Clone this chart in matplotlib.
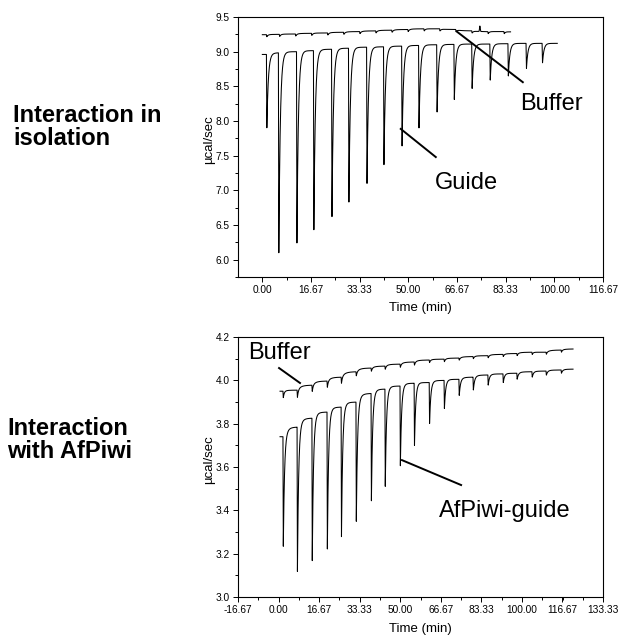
import numpy as np
import matplotlib
matplotlib.use("Agg")
import matplotlib.pyplot as plt
from matplotlib.ticker import FixedLocator, AutoMinorLocator, FormatStrFormatter

plt.rcParams["font.family"] = ["Liberation Sans", "DejaVu Sans"]

# ---------------- Interaction in isolation ----------------
# guide titration: injection times (min), peak minima and settled baseline after each injection (µcal/sec)
guide_start, guide_end, guide_level0 = 0.0, 101.0, 8.96
guide_inj_t = [1.4, 5.5, 11.7, 17.5, 23.7, 29.5, 35.7, 41.5, 47.7, 53.5,
               59.7, 65.6, 71.7, 77.9, 84.1, 90.3, 95.8]
guide_inj_min = [7.90, 6.10, 6.24, 6.43, 6.62, 6.83, 7.10, 7.37, 7.64, 7.90,
                 8.13, 8.31, 8.47, 8.59, 8.65, 8.76, 8.84]
guide_level = [8.985, 9.00, 9.015, 9.035, 9.05, 9.065, 9.07, 9.08, 9.09, 9.10,
               9.105, 9.11, 9.11, 9.115, 9.12, 9.12, 9.12]

# buffer-only control
buf1_start, buf1_end, buf1_level0 = 0.0, 85.0, 9.245
buf1_inj_t = [1.4, 5.8, 11.3, 16.8, 22.3, 27.8, 33.3, 38.8, 44.3, 49.8,
              55.3, 60.7, 66.2, 71.7, 77.2, 82.7]
buf1_inj_min = [9.215, 9.22, 9.225, 9.235, 9.24, 9.25, 9.26, 9.27, 9.28, 9.29,
                9.30, 9.30, 9.29, 9.27, 9.26, 9.26]
buf1_level = [9.25, 9.255, 9.265, 9.27, 9.28, 9.29, 9.30, 9.31, 9.32, 9.33,
              9.33, 9.32, 9.30, 9.29, 9.29, 9.285]
buf1_spike_t = [74.5]
buf1_spike_peak = [9.37]

# ---------------- Interaction with AfPiwi ----------------
piwi_start, piwi_end, piwi_level0 = 0.6, 121.0, 3.74
piwi_inj_t = [1.8, 7.6, 13.7, 19.9, 25.7, 31.8, 38.0, 43.7, 49.9, 55.7,
              61.9, 68.0, 74.1, 79.9, 86.0, 92.2, 97.9, 104.1, 109.9, 116.1]
piwi_inj_min = [3.23, 3.115, 3.166, 3.22, 3.277, 3.346, 3.443, 3.51, 3.605, 3.70,
                3.80, 3.87, 3.93, 3.955, 3.978, 3.99, 4.005, 4.015, 4.024, 4.033]
piwi_level = [3.785, 3.826, 3.854, 3.877, 3.90, 3.94, 3.96, 3.974, 3.987, 3.99,
              4.00, 4.005, 4.015, 4.025, 4.03, 4.033, 4.04, 4.043, 4.048, 4.052]

buf2_start, buf2_end, buf2_level0 = 0.6, 121.0, 3.95
buf2_inj_t = piwi_inj_t
buf2_inj_min = [3.92, 3.92, 3.948, 3.967, 3.985, 4.02, 4.042, 4.051, 4.06, 4.07,
                4.082, 4.086, 4.093, 4.10, 4.104, 4.11, 4.114, 4.12, 4.12, 4.13]
buf2_level = [3.955, 3.978, 3.997, 4.015, 4.04, 4.057, 4.066, 4.075, 4.085, 4.094,
              4.098, 4.103, 4.11, 4.114, 4.12, 4.124, 4.13, 4.13, 4.14, 4.145]

# axis ticks
top_xticks = [0.00, 16.67, 33.33, 50.00, 66.67, 83.33, 100.00, 116.67]
top_yticks = [6.0, 6.5, 7.0, 7.5, 8.0, 8.5, 9.0, 9.5]
bot_xticks = [-16.67, 0.00, 16.67, 33.33, 50.00, 66.67, 83.33, 100.00, 116.67, 133.33]
bot_yticks = [3.0, 3.2, 3.4, 3.6, 3.8, 4.0, 4.2]


def thermogram(t0, t1, level0, inj_t, inj_min, level_after,
               tau=0.5, fall=0.15, tau_base=1.5, dt=0.01):
    """Raw ITC power trace: a sharp exothermic spike at every injection,
    exponential return and a slowly settling baseline."""
    t = np.arange(t0, t1 + dt / 2, dt)
    y = np.full_like(t, level0)
    prev = level0
    for ti, m, lv in zip(inj_t, inj_min, level_after):
        u = t - ti
        on = u >= 0
        y[on] += (lv - prev) * (1 - np.exp(-u[on] / tau_base))
        shape = np.where(u < fall, u / fall, np.exp(-(u - fall) / tau))
        y[on] -= (prev - m) * shape[on]
        prev = lv
    return t, y


def add_spikes(t, y, spike_t, spike_peak, width=0.12):
    y = y.copy()
    for ts, pk in zip(spike_t, spike_peak):
        base = np.interp(ts, t, y)
        y += (pk - base) * np.exp(-0.5 * ((t - ts) / width) ** 2)
    return y


def style_axes(ax, xticks, yticks, xlim, ylim, yfmt):
    ax.set_xlim(*xlim)
    ax.set_ylim(*ylim)
    ax.xaxis.set_major_locator(FixedLocator(xticks))
    ax.xaxis.set_major_formatter(FormatStrFormatter("%.2f"))
    ax.yaxis.set_major_locator(FixedLocator(yticks))
    ax.yaxis.set_major_formatter(FormatStrFormatter(yfmt))
    ax.xaxis.set_minor_locator(AutoMinorLocator(2))
    ax.yaxis.set_minor_locator(AutoMinorLocator(2))
    ax.tick_params(which="both", direction="out", top=False, right=False,
                   labelsize=7.3, width=0.7, pad=2.5, colors="black")
    ax.tick_params(which="major", length=3.5)
    ax.tick_params(which="minor", length=2.0)
    for s in ax.spines.values():
        s.set_linewidth(0.8)
        s.set_color("black")
    ax.set_xlabel("Time (min)", fontsize=9.5)
    ax.set_ylabel("µcal/sec", fontsize=9.5)
    ax.xaxis.set_label_coords(0.5, -0.096)
    ax.yaxis.set_label_coords(-29 / 365, 0.53)
    ax.yaxis.label.set_va("center")


fig = plt.figure(figsize=(6.19, 6.35), dpi=100)
ax1 = fig.add_axes([0.3845, 0.5638, 0.5897, 0.4094])
ax2 = fig.add_axes([0.3845, 0.0598, 0.5897, 0.4094])

trace_kw = dict(color="black", lw=0.75)

# top panel
t, y = thermogram(buf1_start, buf1_end, buf1_level0, buf1_inj_t, buf1_inj_min, buf1_level,
                  tau=0.4)
y = add_spikes(t, y, buf1_spike_t, buf1_spike_peak)
ax1.plot(t, y, **trace_kw)
t, y = thermogram(guide_start, guide_end, guide_level0, guide_inj_t, guide_inj_min, guide_level)
ax1.plot(t, y, **trace_kw)
style_axes(ax1, top_xticks, top_yticks, (-8.33, 116.67), (5.75, 9.5), "%.1f")

ax1.plot([66.6, 89.2], [9.29, 8.56], color="black", lw=1.4)
ax1.text(88.2, 8.16, "Buffer", fontsize=17, ha="left", va="baseline")
ax1.plot([47.4, 59.4], [7.886, 7.48], color="black", lw=1.4)
ax1.text(59.0, 7.02, "Guide", fontsize=17, ha="left", va="baseline")

# bottom panel
t, y = thermogram(buf2_start, buf2_end, buf2_level0, buf2_inj_t, buf2_inj_min, buf2_level,
                  tau=0.4)
ax2.plot(t, y, **trace_kw)
t, y = thermogram(piwi_start, piwi_end, piwi_level0, piwi_inj_t, piwi_inj_min, piwi_level)
ax2.plot(t, y, **trace_kw)
style_axes(ax2, bot_xticks, bot_yticks, (-16.67, 133.33), (3.0, 4.2), "%.1f")
ax2.xaxis.set_label_coords(0.5, -0.1)

ax2.plot([0.2, 8.8], [4.057, 3.988], color="black", lw=1.4)
ax2.text(-12.6, 4.098, "Buffer", fontsize=17, ha="left", va="baseline")
ax2.plot([50.7, 75.0], [3.632, 3.517], color="black", lw=1.4)
ax2.text(65.9, 3.369, "AfPiwi-guide", fontsize=17, ha="left", va="baseline")

# panel captions
cap_kw = dict(fontsize=17, fontweight="bold", ha="left", va="baseline")
fig.text(13 / 619, 1 - 122 / 635, "Interaction in", **cap_kw)
fig.text(13 / 619, 1 - 145 / 635, "isolation", **cap_kw)
fig.text(7 / 619, 1 - 435 / 635, "Interaction", **cap_kw)
fig.text(7 / 619, 1 - 458 / 635, "with AfPiwi", **cap_kw)

fig.savefig("out.png", dpi=100)
